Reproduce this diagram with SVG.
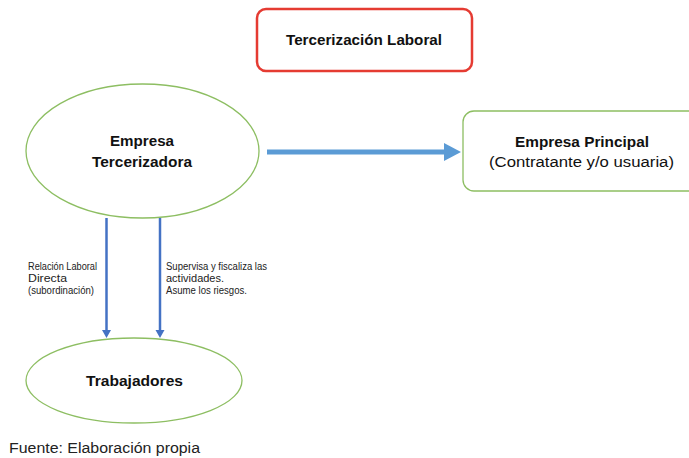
<svg xmlns="http://www.w3.org/2000/svg" width="689" height="458" viewBox="0 0 689 458">
<style>
.bold{font-family:"Liberation Sans",Arial,sans-serif;font-weight:bold;fill:#111;text-anchor:middle}
.reg{font-family:"Liberation Sans",Arial,sans-serif;fill:#111;text-anchor:middle}
.small{font-family:"Liberation Sans",Arial,sans-serif;font-size:10px;fill:#222}
.green{fill:#fff;stroke:#8DBE62;stroke-width:1.3}
</style>
<rect width="689" height="458" fill="#fff"/>
<g id="title">
<rect x="257" y="9" width="215" height="62" rx="9" fill="#fff" stroke="#E53B32" stroke-width="2.5"/>
<text class="bold" x="364" y="45" font-size="15.5" textLength="156" lengthAdjust="spacingAndGlyphs">Tercerización Laboral</text>
</g>
<g id="empresa-tercerizadora">
<ellipse class="green" cx="142.5" cy="151" rx="116.5" ry="67"/>
<text class="bold" x="142" y="146" font-size="15.5" textLength="64" lengthAdjust="spacingAndGlyphs">Empresa</text>
<text class="bold" x="142" y="167" font-size="15.5" textLength="100" lengthAdjust="spacingAndGlyphs">Tercerizadora</text>
</g>
<g id="empresa-principal">
<rect class="green" x="463" y="111" width="240" height="80" rx="11"/>
<text class="bold" x="582" y="147" font-size="15.5" textLength="134" lengthAdjust="spacingAndGlyphs">Empresa Principal</text>
<text class="reg" x="581.5" y="167" font-size="15.5" textLength="185" lengthAdjust="spacingAndGlyphs">(Contratante y/o usuaria)</text>
</g>
<g id="trabajadores">
<ellipse class="green" cx="134" cy="380.5" rx="108" ry="42.5"/>
<text class="bold" x="134.5" y="386" font-size="15.5" textLength="97" lengthAdjust="spacingAndGlyphs">Trabajadores</text>
</g>
<g id="connectors">
<line x1="267" y1="152" x2="446" y2="152" stroke="#5B9BD5" stroke-width="5"/>
<polygon points="444,143 461,152 444,161" fill="#5B9BD5"/>
<line x1="106.5" y1="218" x2="106.5" y2="331" stroke="#4472C4" stroke-width="2.5"/>
<polygon points="102,330 111,330 106.5,338" fill="#4472C4"/>
<line x1="160" y1="218" x2="160" y2="331" stroke="#4472C4" stroke-width="2.5"/>
<polygon points="155.5,330 164.5,330 160,338" fill="#4472C4"/>
<text class="small" x="28" y="270" textLength="69" lengthAdjust="spacingAndGlyphs">Relación Laboral</text>
<text class="small" x="28" y="282" textLength="39" lengthAdjust="spacingAndGlyphs">Directa</text>
<text class="small" x="28" y="294" textLength="66" lengthAdjust="spacingAndGlyphs">(subordinación)</text>
<text class="small" x="166" y="270" textLength="101" lengthAdjust="spacingAndGlyphs">Supervisa y fiscaliza las</text>
<text class="small" x="166" y="282" textLength="58" lengthAdjust="spacingAndGlyphs">actividades.</text>
<text class="small" x="166" y="294" textLength="81" lengthAdjust="spacingAndGlyphs">Asume los riesgos.</text>
</g>
<text x="9" y="453" font-family="Liberation Sans,Arial,sans-serif" font-size="14" fill="#222" textLength="191" lengthAdjust="spacingAndGlyphs">Fuente: Elaboración propia</text>
</svg>
